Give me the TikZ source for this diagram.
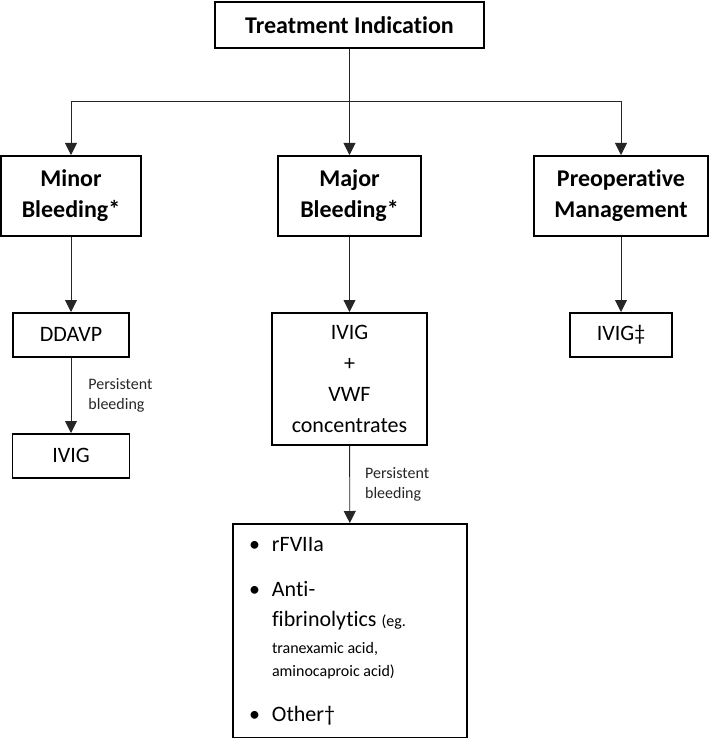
\documentclass[tikz,border=0pt]{standalone}
\usepackage{fontspec}
\setmainfont{Carlito}[Ligatures=NoCommon]
\usetikzlibrary{arrows.meta,positioning}
\tikzstyle{line} = [draw, -{Triangle[length=12pt, width=12pt]}, line width=0.9pt, black!85]
\tikzstyle{box} = [draw, line width=1.6pt, inner sep=0pt, align=center]
\tikzstyle{head} = [box, font=\bfseries\fontsize{24}{31}\selectfont]
\tikzstyle{drug} = [box, font=\fontsize{22}{31}\selectfont]
\tikzstyle{note} = [inner sep=0pt, align=left, font=\fontsize{16}{19.5}\selectfont]
\newcommand{\bul}{\makebox[23pt][l]{\textbullet}}
\newcommand{\ind}{\hspace*{23pt}}
\newcommand{\smalltxt}{\fontsize{16}{23}\selectfont}

\begin{document}
\begin{tikzpicture}[x=1pt, y=1pt]
        \useasboundingbox (0,0) rectangle (709,-738);

        \node[head, minimum width=269pt, minimum height=46pt, anchor=north] (indication) at (349.5,-1) {Treatment Indication};

        \node[head, minimum width=140pt, minimum height=80pt, anchor=north] (minor) at (71,-155) {Minor\\Bleeding*};
        \node[head, minimum width=143pt, minimum height=80pt, anchor=north] (major) at (349.5,-155) {Major\\Bleeding*};
        \node[head, minimum width=174pt, minimum height=80pt, anchor=north] (preop) at (621,-155) {Preoperative\\Management};

        \node[drug, minimum width=116pt, minimum height=44pt, anchor=north] (ddavp) at (71,-312) {DDAVP};
        \node[drug, minimum width=117pt, minimum height=44pt, anchor=north] (ivig) at (71,-433) {IVIG};
        \node[drug, minimum width=155pt, minimum height=132pt, anchor=north] (ivigvwf) at (349.5,-312) {IVIG\\+\\VWF\\concentrates};
        \node[drug, minimum width=102pt, minimum height=44pt, anchor=north] (ivigpre) at (621,-312) {IVIG‡};

        \node[box, align=flush left, font=\fontsize{22}{23}\selectfont, text width=202pt, inner xsep=16pt, minimum height=214pt, anchor=north] (others) at (350,-523) {%
            \bul rFVIIa\\[22pt]
            \bul Anti-\\[7pt]
            \ind fibrinolytics {\smalltxt(eg.}\\[4pt]
            \ind{\smalltxt tranexamic acid,}\\
            \ind{\smalltxt aminocaproic acid)}\\[22pt]
            \bul Other†};

        \coordinate (fork) at (indication.south |- 0,-101);
        \draw[line] (indication.south) -- (fork) -| (minor.north);
        \draw[line] (fork) -| (preop.north);
        \draw[line] (indication) -- (major);

        \draw[line] (minor) -- (ddavp);
        \draw[line] (ddavp) -- node[note, right=17pt] {Persistent\\bleeding} (ivig);
        \draw[line] (major) -- (ivigvwf);
        \draw[line] (ivigvwf) -- node[note, right=15pt] {Persistent\\bleeding} (others);
        \draw[line] (preop) -- (ivigpre);
    \end{tikzpicture}
\end{document}
